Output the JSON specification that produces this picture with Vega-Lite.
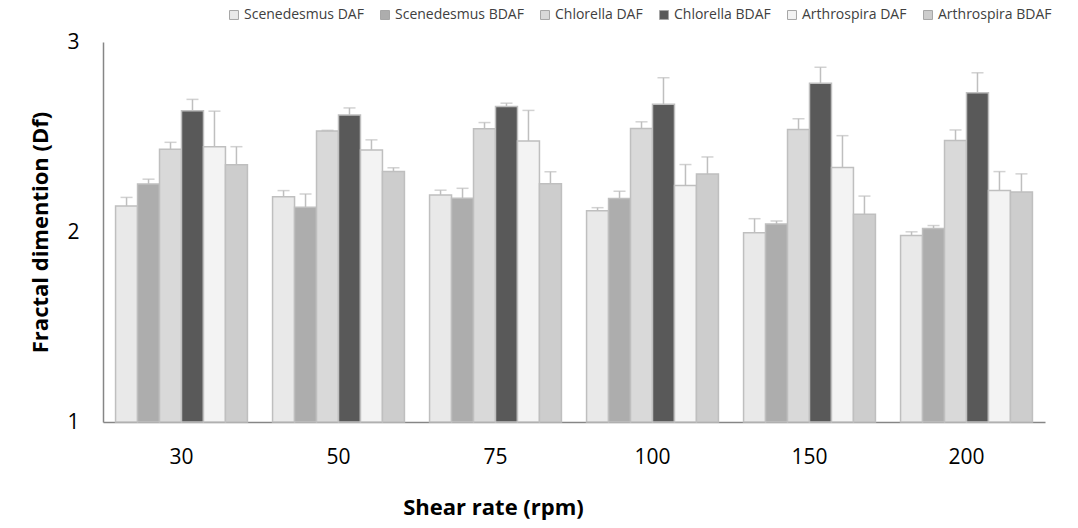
{
  "$schema": "https://vega.github.io/schema/vega-lite/v6.json",
  "width": 942,
  "height": 380,
  "autosize": "none",
  "padding": {"left": 103, "top": 42, "right": 33, "bottom": 106},
  "background": "white",
  "config": {
    "font": "Open Sans",
    "view": {"stroke": null},
    "axis": {"grid": false}
  },
  "data": {
    "values": [
      {"rate": "30", "series": "Scenedesmus DAF", "value": 2.137, "err": 0.045},
      {"rate": "30", "series": "Scenedesmus BDAF", "value": 2.253, "err": 0.025},
      {"rate": "30", "series": "Chlorella DAF", "value": 2.435, "err": 0.037},
      {"rate": "30", "series": "Chlorella BDAF", "value": 2.638, "err": 0.06},
      {"rate": "30", "series": "Arthrospira DAF", "value": 2.449, "err": 0.187},
      {"rate": "30", "series": "Arthrospira BDAF", "value": 2.354, "err": 0.095},
      {"rate": "50", "series": "Scenedesmus DAF", "value": 2.186, "err": 0.032},
      {"rate": "50", "series": "Scenedesmus BDAF", "value": 2.13, "err": 0.07},
      {"rate": "50", "series": "Chlorella DAF", "value": 2.532, "err": 0.003},
      {"rate": "50", "series": "Chlorella BDAF", "value": 2.616, "err": 0.037},
      {"rate": "50", "series": "Arthrospira DAF", "value": 2.432, "err": 0.053},
      {"rate": "50", "series": "Arthrospira BDAF", "value": 2.319, "err": 0.019},
      {"rate": "75", "series": "Scenedesmus DAF", "value": 2.195, "err": 0.025},
      {"rate": "75", "series": "Scenedesmus BDAF", "value": 2.177, "err": 0.053},
      {"rate": "75", "series": "Chlorella DAF", "value": 2.544, "err": 0.032},
      {"rate": "75", "series": "Chlorella BDAF", "value": 2.66, "err": 0.018},
      {"rate": "75", "series": "Arthrospira DAF", "value": 2.479, "err": 0.161},
      {"rate": "75", "series": "Arthrospira BDAF", "value": 2.254, "err": 0.063},
      {"rate": "100", "series": "Scenedesmus DAF", "value": 2.112, "err": 0.016},
      {"rate": "100", "series": "Scenedesmus BDAF", "value": 2.176, "err": 0.039},
      {"rate": "100", "series": "Chlorella DAF", "value": 2.545, "err": 0.035},
      {"rate": "100", "series": "Chlorella BDAF", "value": 2.672, "err": 0.14},
      {"rate": "100", "series": "Arthrospira DAF", "value": 2.245, "err": 0.11},
      {"rate": "100", "series": "Arthrospira BDAF", "value": 2.305, "err": 0.09},
      {"rate": "150", "series": "Scenedesmus DAF", "value": 1.996, "err": 0.074},
      {"rate": "150", "series": "Scenedesmus BDAF", "value": 2.042, "err": 0.016},
      {"rate": "150", "series": "Chlorella DAF", "value": 2.54, "err": 0.056},
      {"rate": "150", "series": "Chlorella BDAF", "value": 2.783, "err": 0.084},
      {"rate": "150", "series": "Arthrospira DAF", "value": 2.34, "err": 0.167},
      {"rate": "150", "series": "Arthrospira BDAF", "value": 2.093, "err": 0.096},
      {"rate": "200", "series": "Scenedesmus DAF", "value": 1.982, "err": 0.019},
      {"rate": "200", "series": "Scenedesmus BDAF", "value": 2.018, "err": 0.016},
      {"rate": "200", "series": "Chlorella DAF", "value": 2.481, "err": 0.056},
      {"rate": "200", "series": "Chlorella BDAF", "value": 2.733, "err": 0.105},
      {"rate": "200", "series": "Arthrospira DAF", "value": 2.218, "err": 0.1},
      {"rate": "200", "series": "Arthrospira BDAF", "value": 2.211, "err": 0.095}
    ]
  },
  "transform": [{"calculate": "datum.value + datum.err", "as": "top"}],
  "encoding": {
    "x": {
      "field": "rate",
      "type": "nominal",
      "sort": ["30", "50", "75", "100", "150", "200"],
      "scale": {"paddingInner": 0.16, "paddingOuter": 0.08},
      "axis": {
        "title": "Shear rate (rpm)",
        "labelAngle": 0,
        "labelFontSize": 21,
        "labelColor": "#000000",
        "labelPadding": 24,
        "ticks": false,
        "domainColor": "#868686",
        "domainWidth": 1.5,
        "titleFontSize": 22,
        "titleFontWeight": "bold",
        "titleColor": "#000000",
        "titleX": 390,
        "titleAnchor": null,
        "titleAlign": "center",
        "titlePadding": 30
      }
    },
    "xOffset": {
      "field": "series",
      "type": "nominal",
      "sort": ["Scenedesmus DAF", "Scenedesmus BDAF", "Chlorella DAF", "Chlorella BDAF", "Arthrospira DAF", "Arthrospira BDAF"],
      "scale": {"paddingInner": 0, "paddingOuter": 0}
    }
  },
  "layer": [
    {
      "mark": {"type": "bar", "stroke": "#bfbfbf", "strokeWidth": 1.5},
      "encoding": {
        "y": {
          "field": "value",
          "type": "quantitative",
          "scale": {"domain": [1, 3], "zero": false, "nice": false},
          "axis": {
            "values": [1, 2, 3],
            "format": ".0f",
            "labelOverlap": false,
            "labelFlush": false,
            "title": "Fractal dimention (Df)",
            "labelFontSize": 21,
            "labelColor": "#000000",
            "labelPadding": 24,
            "ticks": false,
            "domainColor": "#868686",
            "domainWidth": 1.5,
            "titleFontSize": 22,
            "titleFontWeight": "bold",
            "titleColor": "#000000",
            "titlePadding": 14
          }
        },
        "y2": {"datum": 1},
        "fill": {
          "field": "series",
          "type": "nominal",
          "sort": ["Scenedesmus DAF", "Scenedesmus BDAF", "Chlorella DAF", "Chlorella BDAF", "Arthrospira DAF", "Arthrospira BDAF"],
          "scale": {"range": ["#e9e9e9", "#adadad", "#d9d9d9", "#595959", "#f3f3f3", "#cdcdcd"]},
          "legend": {
            "title": null,
            "orient": "none",
            "direction": "horizontal",
            "legendX": 124,
            "legendY": -34,
            "symbolType": "square",
            "symbolSize": 80,
            "symbolStrokeColor": "#a6a6a6",
            "symbolStrokeWidth": 1,
            "labelFontSize": 14,
            "labelColor": "#404040",
            "labelOffset": 3,
            "columnPadding": 14
          }
        }
      }
    },
    {
      "mark": {"type": "rule", "color": "#bfbfbf", "strokeWidth": 1.5},
      "encoding": {
        "y": {"field": "value", "type": "quantitative"},
        "y2": {"field": "top"}
      }
    },
    {
      "mark": {"type": "tick", "color": "#bfbfbf", "thickness": 1.5, "size": 12, "orient": "horizontal"},
      "encoding": {
        "y": {"field": "top", "type": "quantitative"}
      }
    }
  ]
}
